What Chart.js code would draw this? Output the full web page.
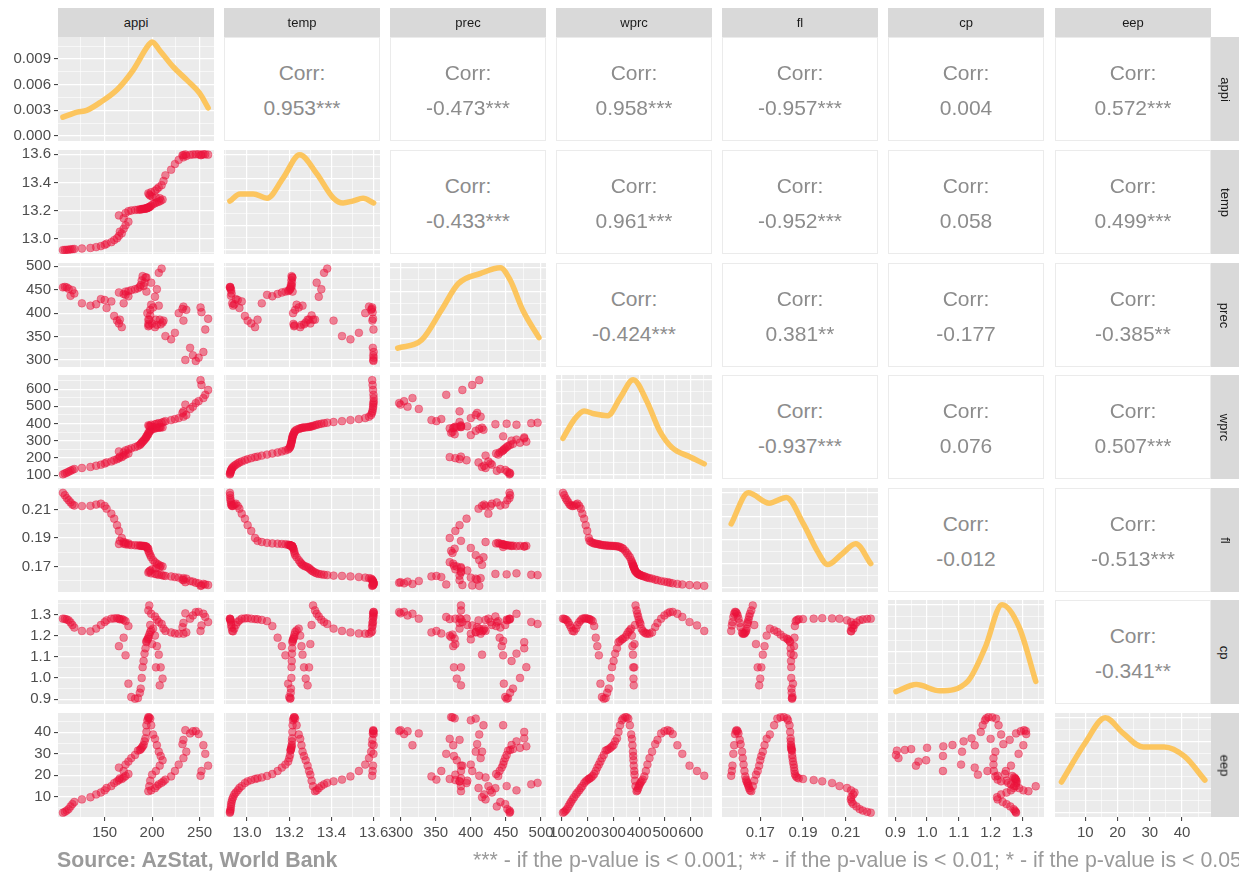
<!DOCTYPE html>
<html>
<head>
<meta charset="utf-8">
<title>Pairs plot</title>
<script src="https://cdn.jsdelivr.net/npm/chart.js@4.4.1/dist/chart.umd.min.js"></script>
<style>
  html, body { margin: 0; padding: 0; background: #fff; }
  body { width: 1239px; height: 877px; position: relative; overflow: hidden; font-family: "Liberation Sans", Arial, sans-serif; }
  canvas { position: absolute; }
  .strip { position: absolute; background: #D9D9D9; color: #1A1A1A; font-size: 13px; display: flex; align-items: center; justify-content: center; }
  .strip.right span { transform: rotate(90deg); white-space: nowrap; }
  .corr { position: absolute; background: #fff; border: 1px solid #EBEBEB; box-sizing: border-box; color: #8C8C8C; font-size: 21px; }
  .corr div { position: absolute; left: 0; right: 0; text-align: center; line-height: 24px; }
  .note { position: absolute; color: #9A9A9A; font-size: 21.3px; white-space: nowrap; }
</style>
</head>
<body>
<script>
// observations, ordered by wprc
const wprc = [105,110,115,120,126,131,136,142,148,155, 161,168,174,180,187,193,199,205,208,214,
  220,226,232,238,244,250,256,263,270,276, 282,289,295,301,307,314,320,326,333,338,
  346,352,358,364,369,372,374,376,377,378, 379,381,382,384,386,390,393,396,399,402,
  405,409,414,420,426,432,440,450,462,471, 485,498,510,519,530,548,567,595,624,652];
const temp = [12.919,12.920,12.921,12.922,12.924,12.925,12.927,12.930,12.934,12.940,
  12.947,12.956,12.964,12.975,12.990,13.003,13.020,13.038,13.050,13.070,
  13.095,13.120,13.145,13.165,13.182,13.195,13.200,13.204,13.206,13.207,
  13.208,13.210,13.211,13.212,13.213,13.214,13.215,13.216,13.218,13.220,
  13.223,13.225,13.228,13.235,13.245,13.252,13.258,13.263,13.270,13.278,
  13.287,13.294,13.300,13.306,13.313,13.322,13.330,13.340,13.352,13.365,
  13.380,13.410,13.450,13.490,13.530,13.560,13.578,13.588,13.592,13.594,
  13.596,13.598,13.598,13.599,13.600,13.600,13.599,13.597,13.595,13.593];
const fl = [0.2217,0.2200,0.2180,0.2165,0.2150,0.2135,0.2128,0.2124,0.2126,0.2135,
  0.2141,0.2125,0.2106,0.2071,0.2036,0.1990,0.1950,0.1900,0.1880,0.1872,
  0.1866,0.1862,0.1860,0.1858,0.1856,0.1853,0.1851,0.1849,0.1848,0.1847,
  0.1846,0.1845,0.1845,0.1844,0.1843,0.1842,0.1840,0.1837,0.1830,0.1825,
  0.1810,0.1795,0.1780,0.1765,0.1745,0.1730,0.1720,0.1712,0.1705,0.1700,
  0.1695,0.1688,0.1680,0.1672,0.1665,0.1658,0.1652,0.1648,0.1645,0.1642,
  0.1640,0.1636,0.1634,0.1630,0.1626,0.1622,0.1618,0.1615,0.1608,0.1604,
  0.1598,0.1594,0.1590,0.1586,0.1582,0.1578,0.1574,0.1570,0.1567,0.1564];
const cp = [1.280,1.279,1.276,1.272,1.262,1.250,1.238,1.222,1.220,1.233,
  1.250,1.264,1.272,1.280,1.281,1.282,1.280,1.278,1.277,1.274,
  1.268,1.245,1.190,1.150,1.107,0.973,0.910,0.902,0.905,0.930,
  0.950,1.000,1.051,1.080,1.115,1.140,1.169,1.175,1.182,1.186,
  1.193,1.205,1.217,1.225,1.233,1.200,1.150,1.110,1.050,0.997,
  0.965,1.050,1.160,1.250,1.342,1.319,1.303,1.290,1.275,1.264,
  1.255,1.233,1.222,1.215,1.210,1.209,1.209,1.215,1.240,1.260,
  1.280,1.295,1.305,1.311,1.312,1.303,1.288,1.264,1.248,1.222];
const eep = [2.6,3.0,3.6,4.3,5.5,6.6,7.6,8.8,9.8,11.1,
  12.0,13.0,14.1,15.0,16.4,17.2,17.8,18.3,18.6,19.0,
  19.7,20.6,22.0,23.6,25.0,26.4,28.0,29.5,31.5,31.8,
  32.2,32.8,33.5,34.1,35.8,37.2,40.2,43.3,45.6,46.5,
  47.1,47.0,46.4,43.3,39.0,37.0,34.0,31.0,29.0,27.0,
  24.5,22.0,20.3,17.5,14.9,12.6,13.0,14.0,15.0,15.8,
  16.5,17.2,18.0,19.5,22.0,25.0,28.0,31.0,34.5,36.5,
  39.5,40.5,41.0,40.6,39.2,34.0,30.0,24.5,22.0,19.8];
const appi = [106,108,110,112,114,116,118,126,135,141,
  146,150,152,157,160,163,165,168,166,170,
  172,175,170,165,172,175,178,182,185,187,
  188,189,190,191,192,193,194,194,195,196,
  196,197,198,199,201,203,205,207,209,211,
  208,204,200,198,197,196,199,203,205,207,
  210,212,214,220,224,228,233,236,232,233,
  240,243,235,246,249,254,256,259,252,251];
const prec = [455,456,455,452,437,449,442,421,416,419,
  430,428,411,425,394,384,378,370,386,421,
  439,436,441,444,446,447,449,451,453,456,
  460,470,479,458,465,476,476,446,400,377,
  372,374,407,418,412,370,375,416,376,380,
  386,386,378,395,386,386,465,435,451,486,
  495,384,351,344,358,400,414,407,409,384,
  326,310,300,298,305,317,365,388,402,412];

// diagonal density curves (appi in absolute units, others relative to their peak)
const appiDensX = [106,121,131,145,163,180,196,200,208,222,237,250,259];
const appiDensY = [0.0022,0.0028,0.0030,0.0039,0.0054,0.0077,0.0106,0.0110,0.0100,0.0081,0.0065,0.0050,0.0033];
const tempDensX = [12.919,12.967,13.03,13.095,13.17,13.25,13.33,13.41,13.455,13.50,13.55,13.60];
const tempDensY = [0.51,0.585,0.585,0.54,0.75,1.0,0.80,0.54,0.49,0.51,0.54,0.49];
const precDensX = [296,330,358,382,414,442,456,474,497];
const precDensY = [0.15,0.235,0.55,0.83,0.94,1.0,0.87,0.55,0.26];
const wprcDensX = [105,149,187,225,278,327,377,430,479,528,592,652];
const wprcDensY = [0.38,0.58,0.67,0.64,0.62,0.81,1.0,0.77,0.46,0.28,0.19,0.11];
const flDensX = [0.1564,0.1644,0.1742,0.1822,0.1902,0.1968,0.2015,0.2081,0.2147,0.2217];
const flDensY = [0.67,1.0,0.89,0.95,0.67,0.38,0.24,0.35,0.46,0.25];
const cpDensX = [0.902,0.966,1.04,1.128,1.182,1.236,1.29,1.342];
const cpDensY = [0.08,0.155,0.09,0.19,0.54,1.0,0.76,0.19];
const eepDensX = [2.6,9.9,16.2,21.6,28,34.5,40.8,47.1];
const eepDensY = [0.32,0.73,1.0,0.84,0.69,0.69,0.59,0.34];

// correlation labels of the upper triangle, row by row
const corrRow0 = ['0.953***', '-0.473***', '0.958***', '-0.957***', '0.004', '0.572***'];
const corrRow1 = ['-0.433***', '0.961***', '-0.952***', '0.058', '0.499***'];
const corrRow2 = ['-0.424***', '0.381**', '-0.177', '-0.385**'];
const corrRow3 = ['-0.937***', '0.076', '0.507***'];
const corrRow4 = ['-0.012', '-0.513***'];
const corrRow5 = ['-0.341**'];

// tick labels
const appiTicks = [150, 200, 250];
const tempTicks = [13.0, 13.2, 13.4, 13.6];
const precTicks = [300, 350, 400, 450, 500];
const wprcTicks = [100, 200, 300, 400, 500, 600];
const flTicks = [0.17, 0.19, 0.21];
const cpTicks = [0.9, 1.0, 1.1, 1.2, 1.3];
const eepTicks = [10, 20, 30, 40];
const appiDensTicks = [0, 0.003, 0.006, 0.009];
const relDensTicks = [0, 0.25, 0.5, 0.75, 1.0];

const VARS = ['appi', 'temp', 'prec', 'wprc', 'fl', 'cp', 'eep'];
const SERIES = { appi, temp, prec, wprc, fl, cp, eep };
const DENS = {
  appi: [appiDensX, appiDensY], temp: [tempDensX, tempDensY], prec: [precDensX, precDensY],
  wprc: [wprcDensX, wprcDensY], fl: [flDensX, flDensY], cp: [cpDensX, cpDensY], eep: [eepDensX, eepDensY]
};
const CORR = [corrRow0, corrRow1, corrRow2, corrRow3, corrRow4, corrRow5];
const AXIS = {
  appi: { lim: [100.8, 265.2], major: appiTicks, dig: 0 },
  temp: { lim: [12.891, 13.630], major: tempTicks, dig: 1 },
  prec: { lim: [285, 507], major: precTicks, dig: 0 },
  wprc: { lim: [78, 682], major: wprcTicks, dig: 0 },
  fl: { lim: [0.1521, 0.2251], major: flTicks, dig: 2 },
  cp: { lim: [0.877, 1.368], major: cpTicks, dig: 1 },
  eep: { lim: [0.6, 49], major: eepTicks, dig: 0 }
};
const DENS_AXIS_APPI = { lim: [-0.00058, 0.01157], major: appiDensTicks, dig: 3 };
const DENS_AXIS_REL = { lim: [-0.05, 1.05], major: relDensTicks, dig: 2 };

// layout
const COLS = [58, 224, 390, 556, 722, 888, 1055];
const ROWS = [37, 150, 263, 375, 488, 600, 713];
const PW = 156, PH = 104, PAD = 14, AW = 58, AH = 24;
const FONT = '"Liberation Sans", Arial, sans-serif';

const panelBg = {
  id: 'panelBg',
  beforeDraw(chart) {
    const { ctx, chartArea: a } = chart;
    ctx.save();
    ctx.fillStyle = '#EBEBEB';
    ctx.fillRect(a.left, a.top, a.right - a.left, a.bottom - a.top);
    ctx.restore();
  }
};

function minorTicks(major, lim) {
  const step = major[1] - major[0];
  const out = [];
  for (let k = -1; k < major.length; k++) {
    const v = +(major[0] + (k + 0.5) * step).toFixed(6);
    if (v >= lim[0] && v <= lim[1]) out.push(v);
  }
  return out;
}

function makeScale(pos, ax, showLabels, size) {
  const all = ax.major.concat(minorTicks(ax.major, ax.lim))
    .filter(v => v >= ax.lim[0] && v <= ax.lim[1]).sort((a, b) => a - b);
  const isMajor = v => ax.major.some(m => Math.abs(m - v) < 1e-9);
  return {
    type: 'linear', position: pos, min: ax.lim[0], max: ax.lim[1],
    afterBuildTicks: s => { s.ticks = all.map(v => ({ value: v })); },
    afterFit: s => {
      if (pos === 'left') s.width = size; else s.height = size;
      s.paddingLeft = s.paddingRight = s.paddingTop = s.paddingBottom = 0;
    },
    border: { display: false },
    grid: {
      color: '#FFFFFF',
      lineWidth: c => (c.tick && isMajor(c.tick.value)) ? 1.2 : 0.6,
      drawTicks: showLabels, tickLength: 4, tickWidth: 1,
      tickColor: c => (c.tick && isMajor(c.tick.value)) ? '#333333' : 'rgba(0,0,0,0)'
    },
    ticks: {
      display: showLabels, autoSkip: false, maxRotation: 0, minRotation: 0, padding: 3,
      color: '#4D4D4D', font: { family: FONT, size: 15 },
      callback: v => isMajor(v) ? v.toFixed(ax.dig) : ''
    }
  };
}

function addDiv(cls, left, top, w, h, html) {
  const d = document.createElement('div');
  d.className = cls;
  Object.assign(d.style, { left: left + 'px', top: top + 'px', width: w + 'px', height: h + 'px' });
  d.innerHTML = html;
  document.body.appendChild(d);
  return d;
}

const idx = wprc.map((_, i) => i);

VARS.forEach((rk, r) => {
  VARS.forEach((ck, c) => {
    if (r < c) {
      const box = addDiv('corr', COLS[c], ROWS[r], PW, PH, '');
      box.innerHTML = '<div style="top:' + (PH / 2 - 29) + 'px">Corr:</div>' +
        '<div style="top:' + (PH / 2 + 6) + 'px">' + CORR[r][c - r - 1] + '</div>';
      return;
    }
    const cv = document.createElement('canvas');
    const w = PW + 2 * PAD + (c === 0 ? AW : 0);
    const h = PH + 2 * PAD + (r === 6 ? AH : 0);
    cv.width = w; cv.height = h;
    Object.assign(cv.style, {
      left: (COLS[c] - PAD - (c === 0 ? AW : 0)) + 'px', top: (ROWS[r] - PAD) + 'px',
      width: w + 'px', height: h + 'px'
    });
    document.body.appendChild(cv);

    let dataset, yAxis;
    if (r === c) {
      const [xs, ys] = DENS[ck];
      dataset = {
        data: xs.map((x, i) => ({ x, y: ys[i] })), showLine: true, pointRadius: 0,
        borderColor: '#FCC55E', borderWidth: 5.5, cubicInterpolationMode: 'monotone',
        borderCapStyle: 'round', borderJoinStyle: 'round', fill: false
      };
      yAxis = ck === 'appi' ? DENS_AXIS_APPI : DENS_AXIS_REL;
    } else {
      dataset = {
        data: idx.map(i => ({ x: SERIES[ck][i], y: SERIES[rk][i] })),
        pointRadius: 3.9, backgroundColor: 'rgba(235,18,58,0.5)',
        borderColor: 'rgba(235,18,58,0.45)', borderWidth: 0.8
      };
      yAxis = AXIS[rk];
    }

    new Chart(cv, {
      type: 'scatter',
      data: { datasets: [dataset] },
      options: {
        responsive: false, animation: false, events: [],
        layout: { padding: PAD },
        plugins: { legend: { display: false }, tooltip: { enabled: false } },
        scales: {
          x: makeScale('bottom', AXIS[ck], r === 6, r === 6 ? AH : 0),
          y: makeScale('left', yAxis, c === 0, c === 0 ? AW : 0)
        }
      },
      plugins: [panelBg]
    });
  });
});

// facet strips
VARS.forEach((k, c) => addDiv('strip', COLS[c], 8, PW, 29, '<span>' + k + '</span>'));
VARS.forEach((k, r) => addDiv('strip right', 1211, ROWS[r], 28, PH, '<span>' + k + '</span>'));

// caption
const src = addDiv('note', 57, 848, 320, 28, 'Source: AzStat, World Bank');
src.style.fontWeight = 'bold';
addDiv('note', 473, 848, 820, 28, '*** - if the p-value is &lt; 0.001; ** - if the p-value is &lt; 0.01; * - if the p-value is &lt; 0.05');
</script>
</body>
</html>
